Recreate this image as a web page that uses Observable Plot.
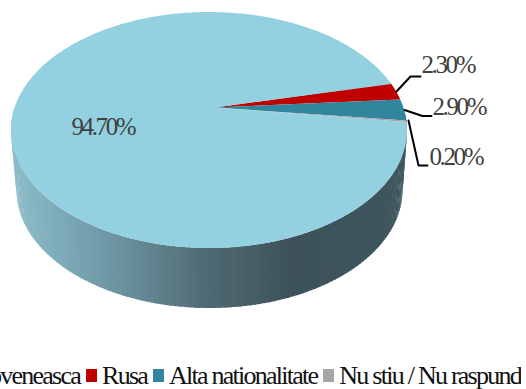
<!DOCTYPE html>
<html>
<head>
<meta charset="utf-8">
<script src="https://cdn.jsdelivr.net/npm/d3@7"></script>
<script src="https://cdn.jsdelivr.net/npm/@observablehq/plot@0.6"></script>
<style>
html,body{margin:0;padding:0;background:#fff;}
#wrap{width:526px;height:389px;position:relative;}
#legend{display:flex;justify-content:flex-end;align-items:flex-start;width:521px;height:26px;overflow-x:clip;white-space:nowrap;
  font-family:"Liberation Serif",serif;font-size:26px;letter-spacing:-1.75px;color:#111;line-height:26px;}
#legend .sw{display:inline-block;flex:none;width:11px;height:13px;margin-top:6px;margin-left:6px;margin-right:5px;}
#legend span.t{flex:none;}
svg{display:block;}
</style>
</head>
<body>
<div id="wrap"><div id="chart"></div><div id="legend"></div></div>
<script>
const categories = ["Moldoveneasca", "Rusa", "Alta nationalitate", "Nu stiu / Nu raspund"];
const shares = [94.7, 2.3, 2.9, 0.2];
const valueLabels = ["94.70%", "2.30%", "2.90%", "0.20%"];
const sliceColors = ["#93D0E0", "#C00000", "#31859C", "#A6A6A6"];

// pie geometry (pixel-identity scales)
const apex = [215, 107.5];
const top_ = {cx: 209, cy: 130, rx: 198, ry: 118};
const bot_ = {cx: 209.5, cy: 190, rx: 193, ry: 118};
const startDeg = -23.3;
const onEll = (e, deg) => [e.cx + e.rx * Math.cos(deg * Math.PI / 180), e.cy + e.ry * Math.sin(deg * Math.PI / 180)];

// clockwise from the red slice: Rusa, Alta, Nu stiu, then the big slice
const order = [1, 2, 3, 0];
let a0 = startDeg;
const sliceMarks = order.map(i => {
  const span = shares[i] / 100 * 360, pts = [];
  const n = Math.max(2, Math.ceil(span));
  for (let k = 0; k <= n; k++) pts.push(onEll(top_, a0 + span * k / n));
  a0 += span;
  return Plot.area(pts, {
    x1: () => apex[0], y1: () => apex[1],
    x2: d => d[0], y2: d => d[1],
    fill: sliceColors[i], curve: "linear"
  });
});

// side wall bands
const bands = [];
for (let t = -8; t < 190; t += 1.5) {
  const mid = onEll(bot_, t + 0.75)[0];
  for (const u of [t, t + 2]) {
    const a = onEll(top_, u), b = onEll(bot_, u);
    bands.push({band: t, shade: mid, x1: a[0], y1: a[1], x2: b[0], y2: b[1]});
  }
}
bands.reverse();

const leaders = [
  {id: 1, pts: [[396, 91], [410, 76], [420, 76]]},
  {id: 2, pts: [[404, 109.5], [422, 115.5], [431, 115.5]]},
  {id: 3, pts: [[408, 120], [418, 165], [427, 165]]}
].flatMap(l => l.pts.map(p => ({id: l.id, x: p[0], y: p[1]})));

const labelSpots = [[71, 126], [421, 64], [432, 106], [429, 156]];
const labelRows = valueLabels.map((text, i) => ({text, x: labelSpots[i][0], y: labelSpots[i][1]}));

const plot = Plot.plot({
  width: 526, height: 363,
  margin: 0,
  x: {type: "identity", axis: null},
  y: {type: "identity", axis: null},
  color: {type: "linear", domain: [15, 100, 205, 290, 405],
          range: ["#8DBDCA", "#729DAB", "#506C75", "#3D525A", "#3F565E"], interpolate: "rgb"},
  marks: [
    Plot.area(bands, {x1: "x1", y1: "y1", x2: "x2", y2: "y2", z: "band", fill: "shade", curve: "linear"}),
    ...sliceMarks,
    Plot.line(leaders, {x: "x", y: "y", z: "id", stroke: "#000", strokeWidth: 2, curve: "linear", strokeLinejoin: "miter"}),
    Plot.text(labelRows, {x: "x", y: "y", text: "text", textAnchor: "start", fill: "#404040",
      fontFamily: "Liberation Serif", fontSize: 25})
  ]
});
plot.style.letterSpacing = "-2.4px";
plot.style.fontSize = "25px";
document.getElementById("chart").append(plot);

const legend = document.getElementById("legend");
categories.forEach((c, i) => {
  const s = document.createElement("span"); s.className = "sw"; s.style.background = sliceColors[i];
  const t = document.createElement("span"); t.className = "t"; t.textContent = c;
  legend.append(s, t);
});
</script>
</body>
</html>
